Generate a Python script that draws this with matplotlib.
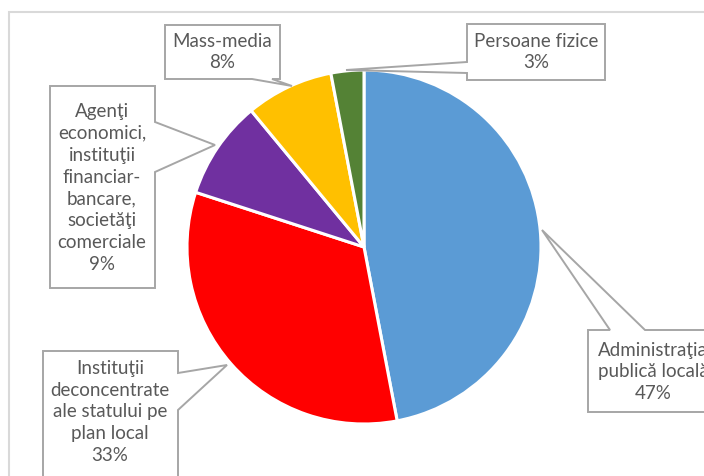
import matplotlib
matplotlib.use('Agg')
import matplotlib.pyplot as plt
from matplotlib.patches import Polygon, Rectangle

# slices, clockwise from 12 o'clock
labels = [
    'Administraţia\npublică locală',
    'Instituţii\ndeconcentrate\nale statului pe\nplan local',
    'Agenţi\neconomici,\ninstituţii\nfinanciar-\nbancare,\nsocietăţi\ncomerciale',
    'Mass-media',
    'Persoane fizice',
]
values = [47, 33, 9, 8, 3]
colors = ['#5B9BD5', '#FF0000', '#7030A0', '#FFC000', '#548235']

W, H = 704, 476
fig = plt.figure(figsize=(W / 100, H / 100), dpi=100)
ax = fig.add_axes([0, 0, 1, 1])


def py(y):
    # pixel row (from top) -> data y
    return H - y


ax.pie(values, colors=colors, startangle=90, counterclock=False,
       center=(364, py(247)), radius=177, frame=True,
       wedgeprops=dict(edgecolor='white', linewidth=2.2))
ax.set_xlim(0, W)
ax.set_ylim(0, H)
ax.set_aspect('equal')
ax.axis('off')

# chart area border
ax.add_patch(Rectangle((9, py(480)), 720, 468, fill=False,
                       edgecolor='#D9D9D9', linewidth=1.5, zorder=0))

# callout shapes (box + pointer), in pixel coords from top-left
callouts = [
    [(588, 330), (610, 330), (542, 230), (645, 330), (730, 330), (730, 412), (588, 412)],
    [(43, 351), (178, 351), (178, 373), (227, 365), (178, 410), (178, 490), (43, 490)],
    [(50, 86), (155, 86), (155, 122), (215, 145), (155, 172), (155, 288), (50, 288)],
    [(165, 25), (280, 25), (280, 79), (272, 79), (292, 86), (252, 79), (165, 79)],
    [(467, 24), (605, 24), (605, 80), (467, 80), (467, 73), (346, 70), (467, 62)],
]
text_pos = [(653, 372), (110, 412), (102, 188), (222, 52), (536, 52)]

for pts, (tx, ty), lab, v in zip(callouts, text_pos, labels, values):
    ax.add_patch(Polygon([(x, py(y)) for x, y in pts], closed=True,
                         facecolor='white', edgecolor='#A6A6A6',
                         linewidth=1.4, zorder=5))
    ax.text(tx, py(ty), f'{lab}\n{v}%', ha='center', va='center',
            fontsize=13.5, family=['Lato', 'DejaVu Sans'], color='#595959',
            linespacing=1.35, zorder=6)

plt.savefig('out.png', dpi=100)
